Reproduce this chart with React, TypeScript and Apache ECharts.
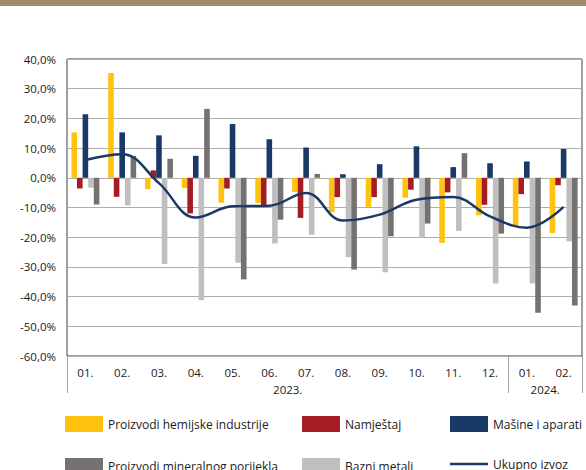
import React, { useEffect, useRef } from "react";
import * as echarts from "echarts";

const months = ["01.", "02.", "03.", "04.", "05.", "06.", "07.", "08.", "09.", "10.", "11.", "12.", "01.", "02."];
const yearLabels = ["2023.", "2024."];
const yearMonthCounts = [12, 2];

const chem = [15.3, 35.3, -3.8, -3.5, -8.4, -8.5, -4.8, -11.6, -9.8, -6.7, -21.9, -12.6, -16.3, -18.6];
const furniture = [-3.6, -6.4, 2.5, -12.0, -3.6, -9.2, -13.5, -6.5, -6.5, -4.0, -4.9, -9.1, -5.5, -2.5];
const machines = [21.4, 15.3, 14.3, 7.4, 18.1, 13.0, 10.2, 1.2, 4.6, 10.6, 3.6, 4.9, 5.5, 9.7];
const baseMetals = [-3.3, -9.3, -29.0, -41.2, -28.6, -22.1, -19.2, -26.7, -31.8, -20.2, -17.9, -35.6, -35.6, -21.4];
const mineral = [-9.0, 7.4, 6.4, 23.2, -34.2, -14.1, 1.3, -30.9, -19.7, -15.4, 8.3, -18.8, -45.4, -43.0];
const total = [6.0, 7.9, -1.8, -13.4, -9.6, -9.4, -5.1, -14.4, -12.4, -7.4, -6.5, -13.0, -16.8, -9.8];

const names = {
  chem: "Proizvodi hemijske industrije",
  furniture: "Namještaj",
  machines: "Mašine i aparati",
  mineral: "Proizvodi mineralnog porijekla",
  baseMetals: "Bazni metali",
  total: "Ukupno izvoz",
};

const FONT = "'Open Sans', sans-serif";
const TEXT = "#1a1a1a";

export default function App() {
  const ref = useRef<HTMLDivElement>(null);
  useEffect(() => {
    document.body.style.margin = "0";
    document.body.style.overflow = "hidden";
    if (!ref.current) return;
    const chart = echarts.init(ref.current, undefined, { renderer: "svg" });

    const yearCenters: number[] = [];
    const boundaries: number[] = [0];
    let acc = 0;
    yearMonthCounts.forEach((c) => {
      yearCenters.push(acc + c / 2);
      acc += c;
      boundaries.push(acc);
    });

    const barBase = { type: "bar", barWidth: 5.6, barGap: "0%", xAxisIndex: 0, yAxisIndex: 0 };
    const legendText = { fontFamily: FONT, fontSize: 12, color: TEXT };
    const mkLegend = (name: string, left: number, top: number, icon: string) => ({
      left,
      top,
      padding: 0,
      itemWidth: 38,
      itemHeight: 16,
      textStyle: legendText,
      selectedMode: false,
      data: [{ name, icon }],
    });

    chart.setOption({
      animation: false,
      textStyle: { fontFamily: FONT },
      grid: {
        left: 67,
        right: 4,
        top: 59,
        bottom: 114,
        show: true,
        borderColor: "#404040",
        borderWidth: 1,
        backgroundColor: "transparent",
      },
      xAxis: [
        {
          type: "category",
          data: months,
          axisLine: { show: false },
          axisTick: { show: false },
          axisLabel: { fontFamily: FONT, fontSize: 11.5, color: TEXT, margin: 10, interval: 0 },
        },
        {
          type: "value",
          min: 0,
          max: months.length,
          interval: 1,
          position: "bottom",
          axisLine: { show: false },
          axisTick: { show: false },
          splitLine: { show: false },
          axisLabel: {
            fontFamily: FONT,
            fontSize: 11.5,
            color: TEXT,
            margin: 27,
            showMinLabel: true,
            showMaxLabel: true,
            formatter: (v: number) => {
              const i = yearCenters.indexOf(v);
              return i >= 0 ? yearLabels[i] : "";
            },
          },
        },
      ],
      yAxis: {
        type: "value",
        min: -60,
        max: 40,
        interval: 10,
        axisLine: { show: false },
        axisTick: { show: false },
        splitLine: { lineStyle: { color: "#adadad", width: 1 } },
        axisLabel: {
          fontFamily: FONT,
          fontSize: 11.5,
          color: TEXT,
          margin: 11,
          formatter: (v: number) => v.toFixed(1).replace(".", ",") + "%",
        },
      },
      legend: [
        mkLegend(names.chem, 65, 416, "rect"),
        mkLegend(names.furniture, 302, 416, "rect"),
        mkLegend(names.machines, 450, 416, "rect"),
        mkLegend(names.mineral, 65, 458, "rect"),
        mkLegend(names.baseMetals, 302, 458, "rect"),
        mkLegend(names.total, 450, 458, "path://M0,0L38,0L38,2.6L0,2.6Z"),
      ],
      series: [
        { ...barBase, name: names.chem, data: chem, itemStyle: { color: "#FFC20E" } },
        { ...barBase, name: names.furniture, data: furniture, itemStyle: { color: "#A51C24" } },
        { ...barBase, name: names.machines, data: machines, itemStyle: { color: "#1B3966" } },
        { ...barBase, name: names.baseMetals, data: baseMetals, itemStyle: { color: "#BFBFBF" } },
        { ...barBase, name: names.mineral, data: mineral, itemStyle: { color: "#767171" } },
        {
          type: "line",
          name: names.total,
          data: total,
          smooth: 0.4,
          symbol: "none",
          z: 5,
          lineStyle: { color: "#1B3966", width: 2.5 },
          itemStyle: { color: "#1B3966" },
        },
      ],
    });

    const yBottom = chart.convertToPixel({ yAxisIndex: 0 }, -60) as number;
    const graphics: any[] = [
      { type: "rect", shape: { x: 0, y: 0, width: 586, height: 6 }, style: { fill: "#A38A6E" }, silent: true },
    ];
    boundaries.forEach((b) => {
      const x = Math.round(chart.convertToPixel({ xAxisIndex: 1 }, b) as number) + 0.5;
      graphics.push({
        type: "line",
        shape: { x1: x, y1: yBottom, x2: x, y2: yBottom + 37 },
        style: { stroke: "#a0a0a0", lineWidth: 1 },
        silent: true,
      });
    });
    chart.setOption({ graphic: graphics });

    return () => chart.dispose();
  }, []);
  return <div ref={ref} style={{ width: 586, height: 470 }} />;
}
